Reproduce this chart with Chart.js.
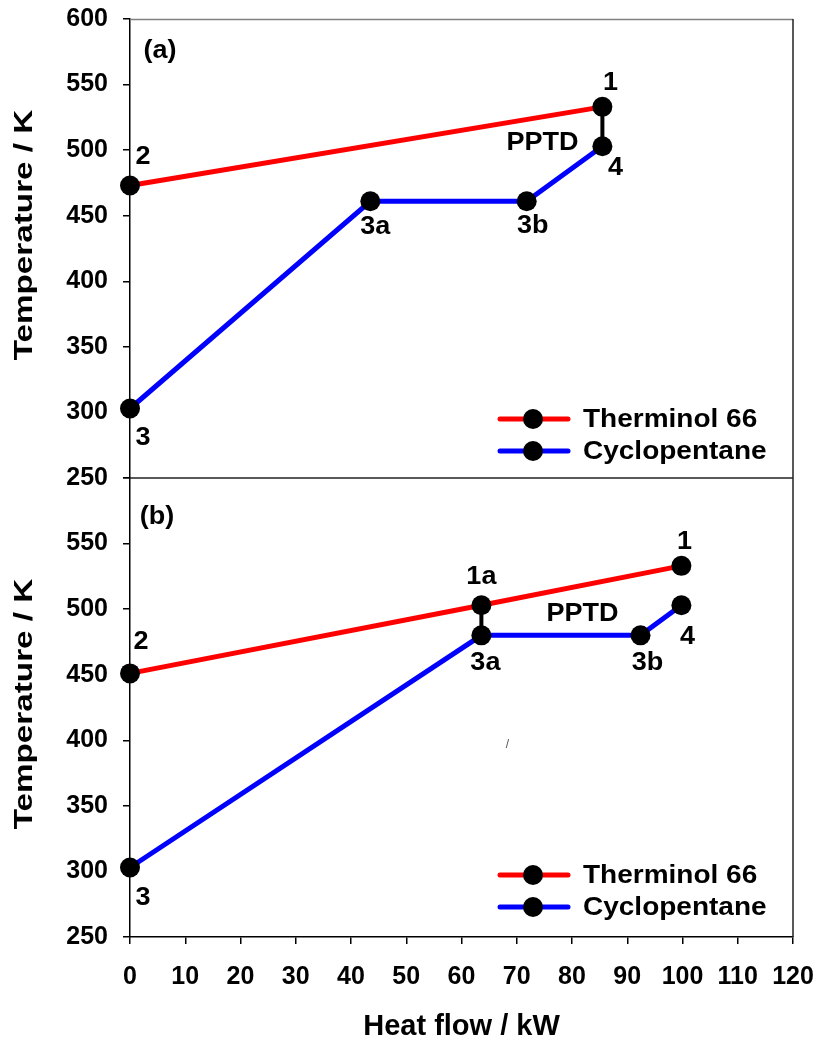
<!DOCTYPE html>
<html>
<head>
<meta charset="utf-8">
<script src="https://cdn.jsdelivr.net/npm/chart.js@4.4.0/dist/chart.umd.min.js"></script>
<style>
  html, body { margin: 0; padding: 0; background: #fff; }
  #wrap { width: 821px; height: 1046px; }
</style>
</head>
<body>
<div id="wrap"><canvas id="chart" width="821" height="1046"></canvas></div>
<script>
// axes
const xTicks = [0, 10, 20, 30, 40, 50, 60, 70, 80, 90, 100, 110, 120];
const yTicks = [250, 300, 350, 400, 450, 500, 550, 600];
const seriesNames = ['Therminol 66', 'Cyclopentane'];
const yTitle = 'Temperature / K';

// panel (a)
const aHotX = [0, 85.5];
const aHotY = [473, 533];
const aHotLabels = ['2', '1'];
const aColdX = [0, 43.5, 71.8, 85.5];
const aColdY = [303, 461, 461, 503];
const aColdLabels = ['3', '3a', '3b', '4'];
const aPinchX = [85.5, 85.5];
const aPinchY = [533, 503];

// panel (b)
const bHotX = [0, 63.6, 99.8];
const bHotY = [451, 503, 533];
const bHotLabels = ['2', '1a', '1'];
const bColdX = [0, 63.6, 92.4, 99.8];
const bColdY = [303, 480, 480, 503];
const bColdLabels = ['3', '3a', '3b', '4'];
const bPinchX = [63.6, 63.6];
const bPinchY = [503, 480];

const FONT = '"Liberation Sans", Arial, sans-serif';
const RED = '#ff0000';
const BLUE = '#0000ff';

const pts = (xs, ys) => xs.map((x, i) => ({ x, y: ys[i] }));

// label offsets in pixels from each point (style only)
const offs = {
  aHot:  [[13, -28], [8, -24]],
  aCold: [[13, 30], [5, 26], [6, 25], [13, 22]],
  bHot:  [[11, -31], [0, -28], [3, -24]],
  bCold: [[13, 31], [4, 28], [7, 28], [6, 32]],
};

function lineSet(label, xs, ys, color, axis, names, off) {
  return {
    label, data: pts(xs, ys), yAxisID: axis, clip: false,
    borderColor: color, borderWidth: 5,
    pointRadius: 10, pointHoverRadius: 10,
    pointBackgroundColor: '#000', pointBorderColor: '#000', pointBorderWidth: 0,
    showLine: true, tension: 0,
    pointLabels: names, labelOffsets: off,
  };
}

function pinchSet(xs, ys, axis) {
  return {
    label: 'PPTD', data: pts(xs, ys), yAxisID: axis, clip: false,
    borderColor: '#000', borderWidth: 4, pointRadius: 0, showLine: true,
  };
}

// text stretched along its baseline, like the source bitmap
function wideText(ctx, txt, x, y, sx, rot) {
  ctx.save();
  ctx.translate(x, y);
  if (rot) ctx.rotate(rot);
  ctx.scale(sx, 1);
  ctx.fillText(txt, 0, 0);
  ctx.restore();
}

const annotate = {
  id: 'annotate',
  afterDatasetsDraw(chart) {
    const ctx = chart.ctx;
    const area = chart.chartArea;
    const ya = chart.scales.ya, yb = chart.scales.yb, x = chart.scales.x;
    ctx.save();

    // frame: top, right and panel divider
    ctx.lineWidth = 1.5;
    ctx.strokeStyle = '#808080';
    ctx.beginPath(); ctx.moveTo(area.left, area.top + 0.5); ctx.lineTo(area.right, area.top + 0.5); ctx.stroke();
    ctx.strokeStyle = '#222';
    ctx.beginPath(); ctx.moveTo(area.right, area.top); ctx.lineTo(area.right, area.bottom); ctx.stroke();
    ctx.beginPath(); ctx.moveTo(area.left, ya.bottom); ctx.lineTo(area.right, ya.bottom); ctx.stroke();

    // point labels
    ctx.fillStyle = '#000';
    ctx.textAlign = 'center';
    ctx.textBaseline = 'middle';
    ctx.font = 'bold 25px ' + FONT;
    chart.data.datasets.forEach((ds, i) => {
      if (!ds.pointLabels) return;
      chart.getDatasetMeta(i).data.forEach((p, j) => {
        const [dx, dy] = ds.labelOffsets[j];
        wideText(ctx, ds.pointLabels[j], p.x + dx, p.y + dy, 1.08);
      });
    });

    // PPTD labels
    wideText(ctx, 'PPTD', x.getPixelForValue(aColdX[3]) - 60, ya.getPixelForValue(aColdY[3]) - 3, 1.08);
    wideText(ctx, 'PPTD', x.getPixelForValue(bColdX[2]) - 58, yb.getPixelForValue(bColdY[2]) - 21, 1.08);

    // panel tags
    wideText(ctx, '(a)', area.left + 30, ya.top + 32, 1.08);
    wideText(ctx, '(b)', area.left + 27, yb.top + 39, 1.08);

    // y axis titles
    wideText(ctx, yTitle, 25, ya.top + 216, 1.33, -Math.PI / 2);
    wideText(ctx, yTitle, 25, yb.top + 226, 1.33, -Math.PI / 2);

    // stray mark in the source figure
    ctx.font = '12px ' + FONT;
    ctx.fillStyle = '#555';
    ctx.fillText('/', x.getPixelForValue(68.3), yb.getPixelForValue(397));

    // legends, one per panel
    const colors = [RED, BLUE];
    [[ya, 59], [yb, 62]].forEach(([sc, up]) => {
      seriesNames.forEach((name, k) => {
        const yy = sc.bottom - up + k * 32;
        const x0 = area.left + 370;
        ctx.strokeStyle = colors[k];
        ctx.lineWidth = 5;
        ctx.lineCap = 'round';
        ctx.beginPath(); ctx.moveTo(x0, yy); ctx.lineTo(x0 + 68, yy); ctx.stroke();
        ctx.fillStyle = '#000';
        ctx.beginPath(); ctx.arc(x0 + 33, yy, 10, 0, Math.PI * 2); ctx.fill();
        ctx.font = 'bold 25px ' + FONT;
        ctx.textAlign = 'left';
        wideText(ctx, name, x0 + 83, yy + 1, 1.12);
      });
    });
    ctx.restore();
  }
};

const yScale = (hideTop) => ({
  type: 'linear', position: 'left', stack: 'temp', stackWeight: 1,
  min: 250, max: 600,
  afterBuildTicks: s => { s.ticks = yTicks.map(v => ({ value: v })); },
  afterFit: s => { s.width = 130; s.paddingTop = 0; s.paddingBottom = 0; },
  border: { display: true, color: '#000', width: 1.5 },
  grid: { display: true, drawOnChartArea: false, drawTicks: true, tickLength: 7, color: '#000', lineWidth: 1.5 },
  ticks: {
    color: '#000', padding: 15,
    font: { family: FONT, size: 25, weight: 'bold' },
    callback: v => (hideTop && v === 600) ? '' : v,
  },
});

new Chart(document.getElementById('chart'), {
  type: 'scatter',
  data: {
    datasets: [
      lineSet(seriesNames[0], aHotX, aHotY, RED, 'ya', aHotLabels, offs.aHot),
      lineSet(seriesNames[1], aColdX, aColdY, BLUE, 'ya', aColdLabels, offs.aCold),
      pinchSet(aPinchX, aPinchY, 'ya'),
      lineSet(seriesNames[0], bHotX, bHotY, RED, 'yb', bHotLabels, offs.bHot),
      lineSet(seriesNames[1], bColdX, bColdY, BLUE, 'yb', bColdLabels, offs.bCold),
      pinchSet(bPinchX, bPinchY, 'yb'),
    ],
  },
  options: {
    responsive: false,
    animation: false,
    layout: { padding: { top: 19, right: 28, bottom: 0, left: 0 } },
    plugins: { legend: { display: false }, tooltip: { enabled: false } },
    scales: {
      x: {
        type: 'linear', position: 'bottom', min: 0, max: 120,
        afterBuildTicks: s => { s.ticks = xTicks.map(v => ({ value: v })); },
        afterFit: s => { s.height = 109; s.paddingLeft = 0; s.paddingRight = 0; },
        border: { display: true, color: '#000', width: 1.5 },
        grid: { display: true, drawOnChartArea: false, drawTicks: true, tickLength: 7, color: '#000', lineWidth: 1.5 },
        ticks: { color: '#000', padding: 18, maxRotation: 0, font: { family: FONT, size: 25, weight: 'bold' } },
        title: {
          display: true, text: 'Heat flow / kW', color: '#000',
          font: { family: FONT, size: 29, weight: 'bold' },
          padding: { top: 0, bottom: 2 },
        },
      },
      // stacked y axes: the one listed first ends up at the bottom
      yb: yScale(true),
      ya: yScale(false),
    },
  },
  plugins: [annotate],
});
</script>
</body>
</html>
